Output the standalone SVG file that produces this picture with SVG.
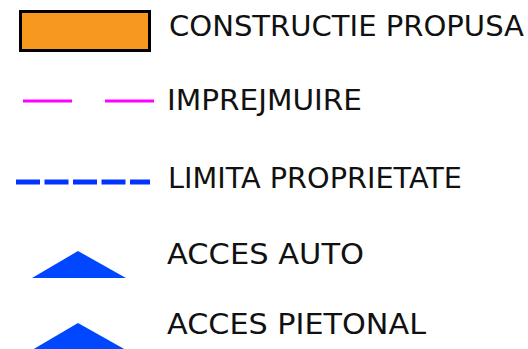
<svg xmlns="http://www.w3.org/2000/svg" width="528" height="349" viewBox="0 0 528 349">
<style>
.lbl{font-family:"DejaVu Sans","Liberation Sans",sans-serif;font-size:28px;fill:#111;}
.tri{fill:#0047FF;}
</style>
<rect width="528" height="349" fill="#fff"/>
<g id="constructie">
<rect x="20.5" y="11.5" width="129" height="39" fill="#F7991F" stroke="#000" stroke-width="3"/>
<text class="lbl" x="169" y="36" textLength="355" lengthAdjust="spacingAndGlyphs">CONSTRUCTIE PROPUSA</text>
</g>
<g id="imprejmuire">
<line x1="23" y1="101" x2="72" y2="101" stroke="#FF00FF" stroke-width="3"/>
<line x1="105" y1="101" x2="154" y2="101" stroke="#FF00FF" stroke-width="3"/>
<text class="lbl" x="167" y="110" textLength="195" lengthAdjust="spacingAndGlyphs">IMPREJMUIRE</text>
</g>
<g id="limita">
<line x1="16" y1="182" x2="150" y2="182" stroke="#0033FF" stroke-width="5" stroke-dasharray="24 4.5"/>
<text class="lbl" x="168" y="188" textLength="294" lengthAdjust="spacingAndGlyphs">LIMITA PROPRIETATE</text>
</g>
<g id="acces-auto">
<polygon class="tri" points="78,251 126,278 32,278"/>
<text class="lbl" x="167" y="264" textLength="197" lengthAdjust="spacingAndGlyphs">ACCES AUTO</text>
</g>
<g id="acces-pietonal">
<polygon class="tri" points="78,323 126,350 32,350"/>
<text class="lbl" x="167" y="334" textLength="259" lengthAdjust="spacingAndGlyphs">ACCES PIETONAL</text>
</g>
</svg>
